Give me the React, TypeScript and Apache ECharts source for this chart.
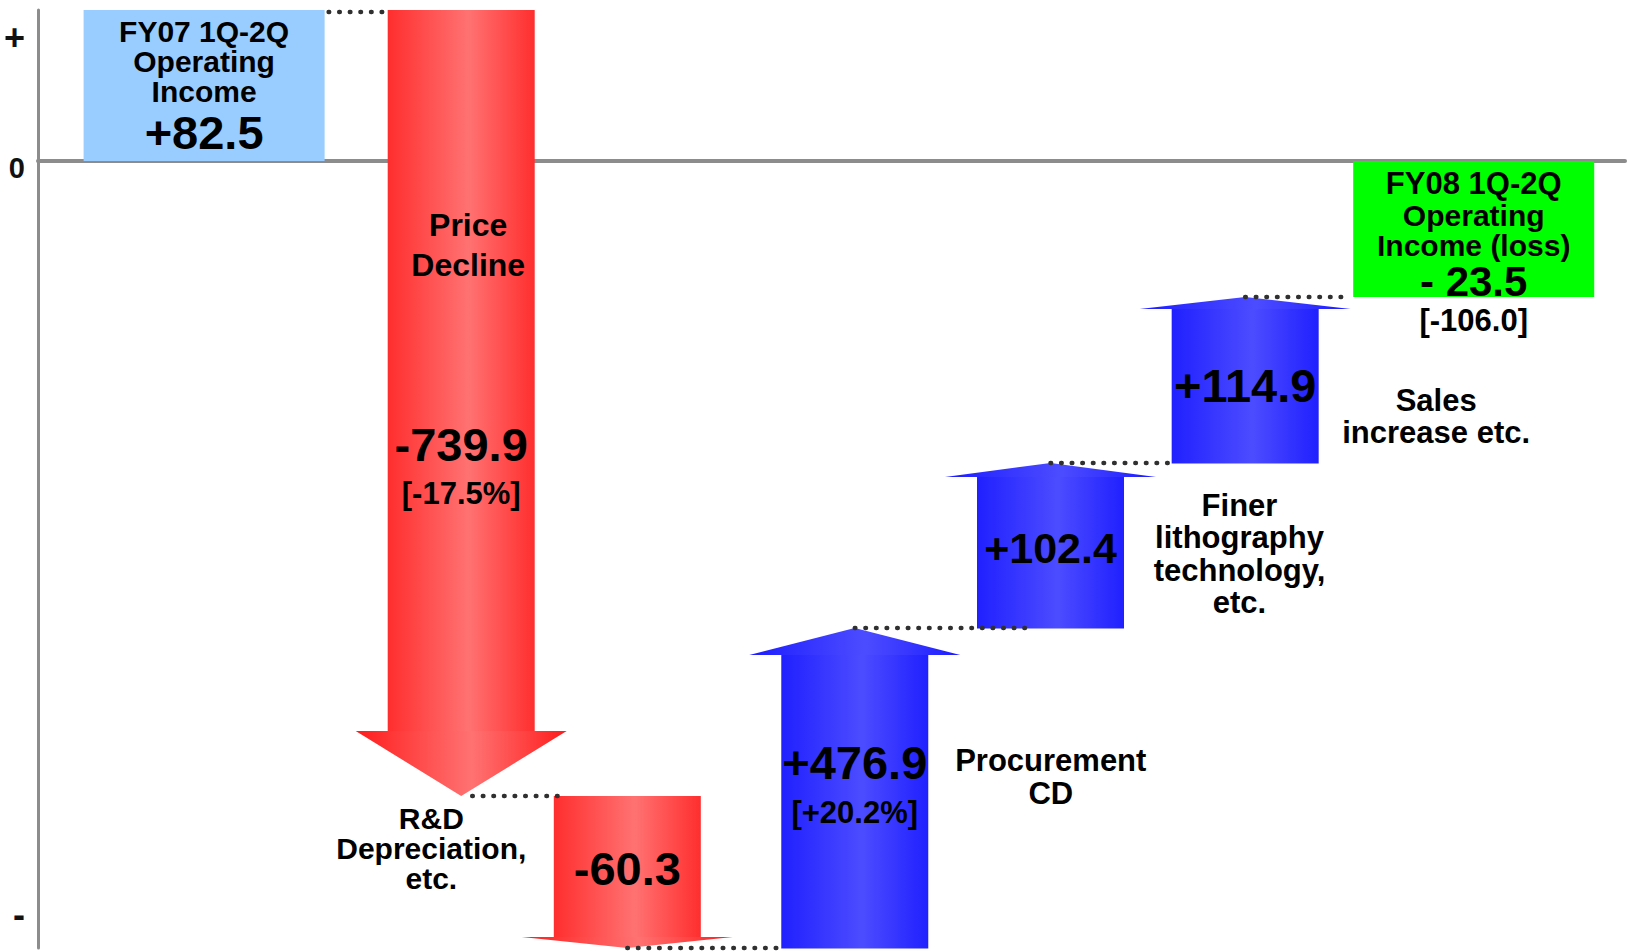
import React, { useEffect, useRef } from 'react';
import * as echarts from 'echarts';

// ---------------- data ----------------
const categories = [
  'FY07 1Q-2Q\nOperating\nIncome',
  'Price\nDecline',
  'R&D\nDepreciation,\netc.',
  'Procurement\nCD',
  'Finer\nlithography\ntechnology,\netc.',
  'Sales\nincrease etc.',
  'FY08 1Q-2Q\nOperating\nIncome (loss)',
];
const amounts = [82.5, -739.9, -60.3, 476.9, 102.4, 114.9, -23.5];
const amountLabels = ['+82.5', '-739.9', '-60.3', '+476.9', '+102.4', '+114.9', '- 23.5'];
const shareLabels = ['', '[-17.5%]', '', '[+20.2%]', '', '', '[-106.0]'];
const isTotal = [true, false, false, false, false, false, true];
// schematic (not to scale) slots and levels
const slots = [1.57, 4.0, 5.57, 7.72, 9.57, 11.41, 13.57];
const levelFrom = [0, 151, -635, -787, -467, -302, 0];
const levelTo = [151, -635, -787, -467, -302, -136, -136];
const signTicks = ['+', '0', '-'];
const signLevels = [124, -7, -753];

// ---------------- styles ----------------
const FONT = '"Liberation Sans", Arial, Helvetica, sans-serif';
const BOX_W = 241;
const SHAFT_W = 147;
const HEAD_W = 211;
const headDepth = [0, 65, 11, 27, 14, 12, 0];
const boxColors: Record<number, string> = { 0: '#99ccff', 6: '#00ff00' };
const tipGap = [4, 11, 0, 0, 0, 0];
const overhang = [0, 8, 0, 50, 0, -3];

const grad = (edge: string, mid: string) =>
  new echarts.graphic.LinearGradient(0, 0, 1, 0, [
    { offset: 0, color: edge },
    { offset: 0.55, color: mid },
    { offset: 1, color: edge },
  ]);

type Part = { lines?: [number, number]; kind: 'cat' | 'amount' | 'share'; dx: number; dy: number; size: number; lh?: number };
const labelLayout: Part[][] = [
  [
    { kind: 'cat', lines: [0, 3], dx: 0, dy: -100, size: 30, lh: 30 },
    { kind: 'amount', dx: 0, dy: -29, size: 47 },
  ],
  [
    { kind: 'cat', lines: [0, 2], dx: 7, dy: 235, size: 32, lh: 40 },
    { kind: 'amount', dx: 0, dy: 434, size: 47 },
    { kind: 'share', dx: 0, dy: 483, size: 31 },
  ],
  [
    { kind: 'cat', lines: [0, 3], dx: -196, dy: 52, size: 30, lh: 30 },
    { kind: 'amount', dx: 0, dy: 72, size: 47 },
  ],
  [
    { kind: 'cat', lines: [0, 2], dx: 196, dy: -171, size: 31, lh: 33 },
    { kind: 'amount', dx: 0, dy: -186, size: 47 },
    { kind: 'share', dx: 0, dy: -136, size: 31 },
  ],
  [
    { kind: 'cat', lines: [0, 4], dx: 189, dy: -74, size: 31, lh: 32.5 },
    { kind: 'amount', dx: 0, dy: -80, size: 43 },
  ],
  [
    { kind: 'cat', lines: [0, 2], dx: 191, dy: -47, size: 31, lh: 32 },
    { kind: 'amount', dx: 0, dy: -78, size: 47 },
  ],
  [
    { kind: 'cat', lines: [0, 1], dx: 0, dy: 22, size: 31, lh: 31 },
    { kind: 'cat', lines: [1, 3], dx: 0, dy: 69, size: 30, lh: 30 },
    { kind: 'amount', dx: 0, dy: 120.5, size: 42 },
    { kind: 'share', dx: 0, dy: 159, size: 31 },
  ],
];

export default function App() {
  const ref = useRef<HTMLDivElement>(null);

  useEffect(() => {
    document.body.style.margin = '0';
    document.body.style.overflow = 'hidden';
    if (!ref.current) return;
    const chart = echarts.init(ref.current, undefined, { renderer: 'svg' });

    const blockData = slots.map((s, i) => [s, levelFrom[i], levelTo[i], amounts[i]]);
    const connData = slots.slice(0, -1).map((s, i) => [s, levelTo[i], slots[i + 1]]);

    const option: any = {
      animation: false,
      backgroundColor: '#ffffff',
      grid: { left: 38, right: 3, top: 10, bottom: 3, containLabel: false },
      xAxis: {
        type: 'value',
        min: 0,
        max: 15,
        axisLine: { show: true, onZero: true, lineStyle: { color: '#8c8c8c', width: 4 } },
        axisTick: { show: false },
        axisLabel: { show: false },
        splitLine: { show: false },
      },
      yAxis: {
        type: 'value',
        min: -787,
        max: 151,
        axisLine: { show: true, onZero: false, lineStyle: { color: '#8c8c8c', width: 3 } },
        axisTick: { show: false },
        splitLine: { show: false },
        axisLabel: {
          show: true,
          customValues: signLevels,
          formatter: (v: number) => {
            const k = signLevels.indexOf(v);
            if (k < 0) return '';
            return k === 1 ? '{z|' + signTicks[k] + '}' : '{s|' + signTicks[k] + '}';
          },
          rich: {
            s: { fontFamily: FONT, fontWeight: 'bold', fontSize: 36, color: '#111' },
            z: { fontFamily: FONT, fontWeight: 'bold', fontSize: 29, color: '#111' },
          },
          fontFamily: FONT,
          fontWeight: 'bold',
          fontSize: 28,
          color: '#111',
          margin: 13,
        },
      },
      series: [
        {
          type: 'custom',
          name: 'blocks',
          z: 2,
          data: blockData,
          encode: { x: 0, y: [1, 2] },
          renderItem: (params: any, api: any) => {
            const i = params.dataIndex;
            const x = api.value(0);
            const a = api.value(1);
            const b = api.value(2);
            const pa = api.coord([x, a]);
            const pb = api.coord([x, b]);
            const cx = pa[0];
            if (isTotal[i]) {
              const top = Math.min(pa[1], pb[1]);
              return {
                type: 'rect',
                shape: { x: cx - BOX_W / 2, y: top, width: BOX_W, height: Math.abs(pb[1] - pa[1]) },
                style: { fill: boxColors[i] },
              };
            }
            const down = b < a;
            const dir = down ? 1 : -1;
            const tipY = pb[1];
            const baseY = tipY - dir * headDepth[i];
            const edge = down ? '#ff2e2e' : '#2020ff';
            const mid = down ? '#ff7272' : '#4c4cff';
            const sTop = Math.min(pa[1], baseY);
            return {
              type: 'group',
              children: [
                {
                  type: 'rect',
                  shape: { x: cx - SHAFT_W / 2, y: sTop, width: SHAFT_W, height: Math.abs(baseY - pa[1]) + 0.5 },
                  style: { fill: grad(edge, mid) },
                },
                {
                  type: 'polygon',
                  shape: {
                    points: [
                      [cx - HEAD_W / 2, baseY],
                      [cx + HEAD_W / 2, baseY],
                      [cx, tipY],
                    ],
                  },
                  style: { fill: grad(down ? '#ff1c1c' : '#1c1cff', mid) },
                },
              ],
            };
          },
        },
        {
          type: 'custom',
          name: 'connectors',
          z: 3,
          data: connData,
          encode: { x: [0, 2], y: 1 },
          renderItem: (params: any, api: any) => {
            const i = params.dataIndex;
            const p = api.coord([api.value(0), api.value(1)]);
            const q = api.coord([api.value(2), api.value(1)]);
            const x1 = isTotal[i] ? p[0] + BOX_W / 2 + tipGap[i] : p[0] + tipGap[i];
            const x2 = q[0] - (isTotal[i + 1] ? BOX_W / 2 : SHAFT_W / 2) + overhang[i];
            const y = p[1] + (i === 0 ? 2 : 0);
            return {
              type: 'line',
              shape: { x1, y1: y, x2, y2: y },
              style: { stroke: '#303030', lineWidth: 4.5, lineDash: [0.6, 10], lineCap: 'round' },
            };
          },
        },
        {
          type: 'custom',
          name: 'labels',
          z: 4,
          data: blockData,
          encode: { x: 0, y: [1, 2] },
          renderItem: (params: any, api: any) => {
            const i = params.dataIndex;
            const pa = api.coord([api.value(0), api.value(1)]);
            const children = labelLayout[i].map((part) => {
              let text = '';
              if (part.kind === 'cat') {
                const ls = categories[i].split('\n');
                text = ls.slice(part.lines![0], part.lines![1]).join('\n');
              } else if (part.kind === 'amount') {
                text = amountLabels[i];
              } else {
                text = shareLabels[i];
              }
              return {
                type: 'text',
                style: {
                  text,
                  x: pa[0] + part.dx,
                  y: pa[1] + part.dy,
                  align: 'center',
                  verticalAlign: 'middle',
                  fontFamily: FONT,
                  fontWeight: 'bold',
                  fontSize: part.size,
                  lineHeight: part.lh ?? part.size,
                  fill: '#000000',
                },
              };
            });
            return { type: 'group', children };
          },
        },
      ],
    };

    chart.setOption(option);
    return () => chart.dispose();
  }, []);

  return <div ref={ref} style={{ width: 1628, height: 951 }} />;
}
